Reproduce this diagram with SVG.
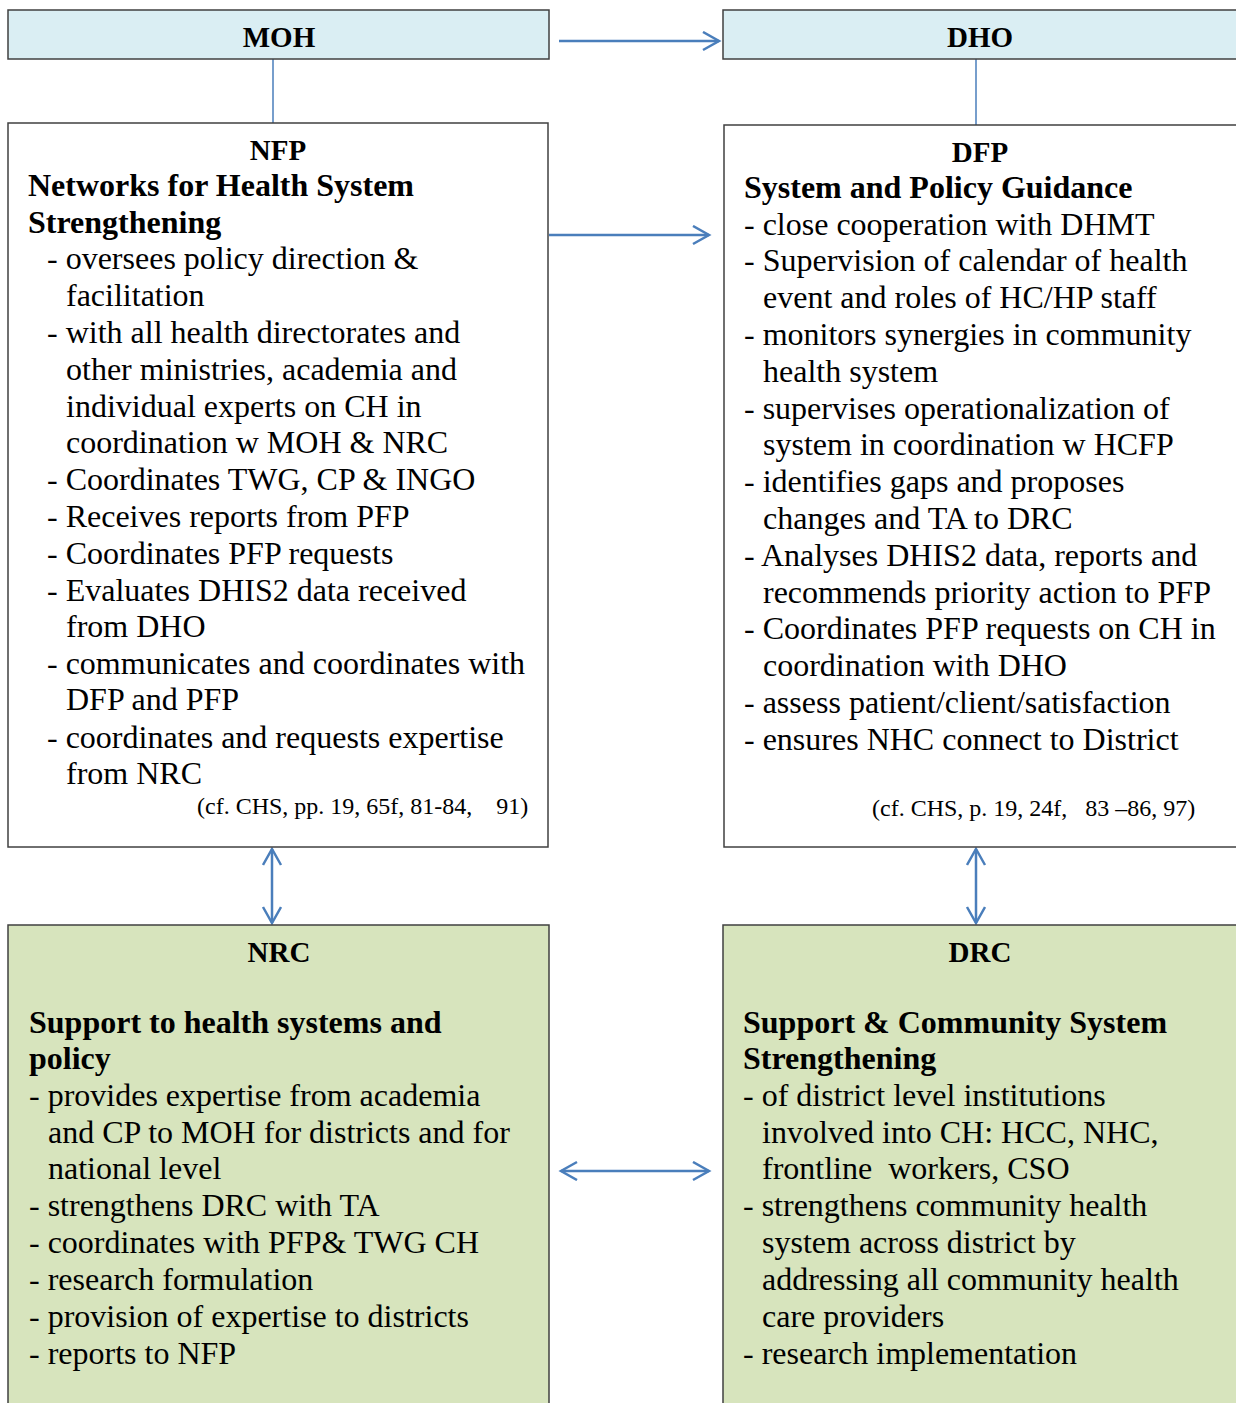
<svg xmlns="http://www.w3.org/2000/svg" width="1236" height="1403" viewBox="0 0 1236 1403">
  <style>
    text { font-family: "Liberation Serif", "Times New Roman", serif; fill: #000; white-space: pre; }
    .hdr { fill: #DAEEF3; stroke: #404040; stroke-width: 1.5; }
    .box { fill: #FFFFFF; stroke: #404040; stroke-width: 1.5; }
    .grn { fill: #D7E4BD; stroke: #404040; stroke-width: 1.5; }
    .title { font-size: 29px; font-weight: bold; text-anchor: middle; }
    .head { font-size: 32px; font-weight: bold; }
    .item { font-size: 32px; }
    .cite { font-size: 24px; }
    .link { stroke: #4A7EBB; stroke-width: 1.5; fill: none; }
    .arrow { stroke: #4A7EBB; stroke-width: 2.5; fill: none; }
  </style>
  <defs>
    <marker id="head" markerUnits="userSpaceOnUse" markerWidth="20" markerHeight="22" refX="17" refY="10" orient="auto-start-reverse">
      <path d="M1,1 L17,10 L1,19" fill="none" stroke="#4A7EBB" stroke-width="2.5"/>
    </marker>
  </defs>

  <rect width="1236" height="1403" fill="#FFFFFF"/>

  <!-- connectors -->
  <g id="connectors">
    <line class="link" x1="273" y1="59" x2="273" y2="123"/>
    <line class="link" x1="976" y1="59" x2="976" y2="125"/>
    <line class="arrow" x1="559" y1="41" x2="719" y2="41" marker-end="url(#head)"/>
    <line class="arrow" x1="549" y1="235" x2="709" y2="235" marker-end="url(#head)"/>
    <line class="arrow" x1="272" y1="849" x2="272" y2="923" marker-start="url(#head)" marker-end="url(#head)"/>
    <line class="arrow" x1="976" y1="849" x2="976" y2="923" marker-start="url(#head)" marker-end="url(#head)"/>
    <line class="arrow" x1="561" y1="1171" x2="709" y2="1171" marker-start="url(#head)" marker-end="url(#head)"/>
  </g>

  <!-- Ministry of Health -->
  <g id="moh">
    <rect class="hdr" x="8" y="10" width="541" height="49"/>
    <text class="title" x="279" y="47">MOH</text>
  </g>

  <!-- District Health Office -->
  <g id="dho">
    <rect class="hdr" x="723" y="10" width="530" height="49"/>
    <text class="title" x="980" y="47">DHO</text>
  </g>

  <!-- National Focal Point -->
  <g id="nfp">
    <rect class="box" x="8" y="123" width="540" height="724"/>
    <text class="title" x="278" y="160">NFP</text>
    <text class="head" x="28" y="196">Networks for Health System</text>
    <text class="head" x="28" y="233">Strengthening</text>
    <text class="item" x="47" y="269">- oversees policy direction &amp;</text>
    <text class="item" x="66" y="306">facilitation</text>
    <text class="item" x="47" y="343">- with all health directorates and</text>
    <text class="item" x="66" y="380">other ministries, academia and</text>
    <text class="item" x="66" y="417">individual experts on CH in</text>
    <text class="item" x="66" y="453">coordination w MOH &amp; NRC</text>
    <text class="item" x="47" y="490">- Coordinates TWG, CP &amp; INGO</text>
    <text class="item" x="47" y="527">- Receives reports from PFP</text>
    <text class="item" x="47" y="564">- Coordinates PFP requests</text>
    <text class="item" x="47" y="601">- Evaluates DHIS2 data received</text>
    <text class="item" x="66" y="637">from DHO</text>
    <text class="item" x="47" y="674">- communicates and coordinates with</text>
    <text class="item" x="66" y="710">DFP and PFP</text>
    <text class="item" x="47" y="748">- coordinates and requests expertise</text>
    <text class="item" x="66" y="784">from NRC</text>
    <text class="cite" x="197" y="814">(cf. CHS, pp. 19, 65f, 81-84,    91)</text>
  </g>

  <!-- District Focal Point -->
  <g id="dfp">
    <rect class="box" x="724" y="125" width="530" height="722"/>
    <text class="title" x="980" y="162">DFP</text>
    <text class="head" x="744" y="198">System and Policy Guidance</text>
    <text class="item" x="744" y="235">- close cooperation with DHMT</text>
    <text class="item" x="744" y="271">- Supervision of calendar of health</text>
    <text class="item" x="763" y="308">event and roles of HC/HP staff</text>
    <text class="item" x="744" y="345">- monitors synergies in community</text>
    <text class="item" x="763" y="382">health system</text>
    <text class="item" x="744" y="419">- supervises operationalization of</text>
    <text class="item" x="763" y="455">system in coordination w HCFP</text>
    <text class="item" x="744" y="492">- identifies gaps and proposes</text>
    <text class="item" x="763" y="529">changes and TA to DRC</text>
    <text class="item" x="744" y="566">- Analyses DHIS2 data, reports and</text>
    <text class="item" x="763" y="603">recommends priority action to PFP</text>
    <text class="item" x="744" y="639">- Coordinates PFP requests on CH in</text>
    <text class="item" x="763" y="676">coordination with DHO</text>
    <text class="item" x="744" y="713">- assess patient/client/satisfaction</text>
    <text class="item" x="744" y="750">- ensures NHC connect to District</text>
    <text class="cite" x="872" y="816">(cf. CHS, p. 19, 24f,   83 –86, 97)</text>
  </g>

  <!-- National Resource Centre -->
  <g id="nrc">
    <rect class="grn" x="8" y="925" width="541" height="500"/>
    <text class="title" x="279" y="962">NRC</text>
    <text class="head" x="29" y="1033">Support to health systems and</text>
    <text class="head" x="29" y="1069">policy</text>
    <text class="item" x="29" y="1106">- provides expertise from academia</text>
    <text class="item" x="48" y="1143">and CP to MOH for districts and for</text>
    <text class="item" x="48" y="1179">national level</text>
    <text class="item" x="29" y="1216">- strengthens DRC with TA</text>
    <text class="item" x="29" y="1253">- coordinates with PFP&amp; TWG CH</text>
    <text class="item" x="29" y="1290">- research formulation</text>
    <text class="item" x="29" y="1327">- provision of expertise to districts</text>
    <text class="item" x="29" y="1364">- reports to NFP</text>
  </g>

  <!-- District Resource Centre -->
  <g id="drc">
    <rect class="grn" x="723" y="925" width="530" height="500"/>
    <text class="title" x="980" y="962">DRC</text>
    <text class="head" x="743" y="1033">Support &amp; Community System</text>
    <text class="head" x="743" y="1069">Strengthening</text>
    <text class="item" x="743" y="1106">- of district level institutions</text>
    <text class="item" x="762" y="1143">involved into CH: HCC, NHC,</text>
    <text class="item" x="762" y="1179">frontline  workers, CSO</text>
    <text class="item" x="743" y="1216">- strengthens community health</text>
    <text class="item" x="762" y="1253">system across district by</text>
    <text class="item" x="762" y="1290">addressing all community health</text>
    <text class="item" x="762" y="1327">care providers</text>
    <text class="item" x="743" y="1364">- research implementation</text>
  </g>
</svg>
